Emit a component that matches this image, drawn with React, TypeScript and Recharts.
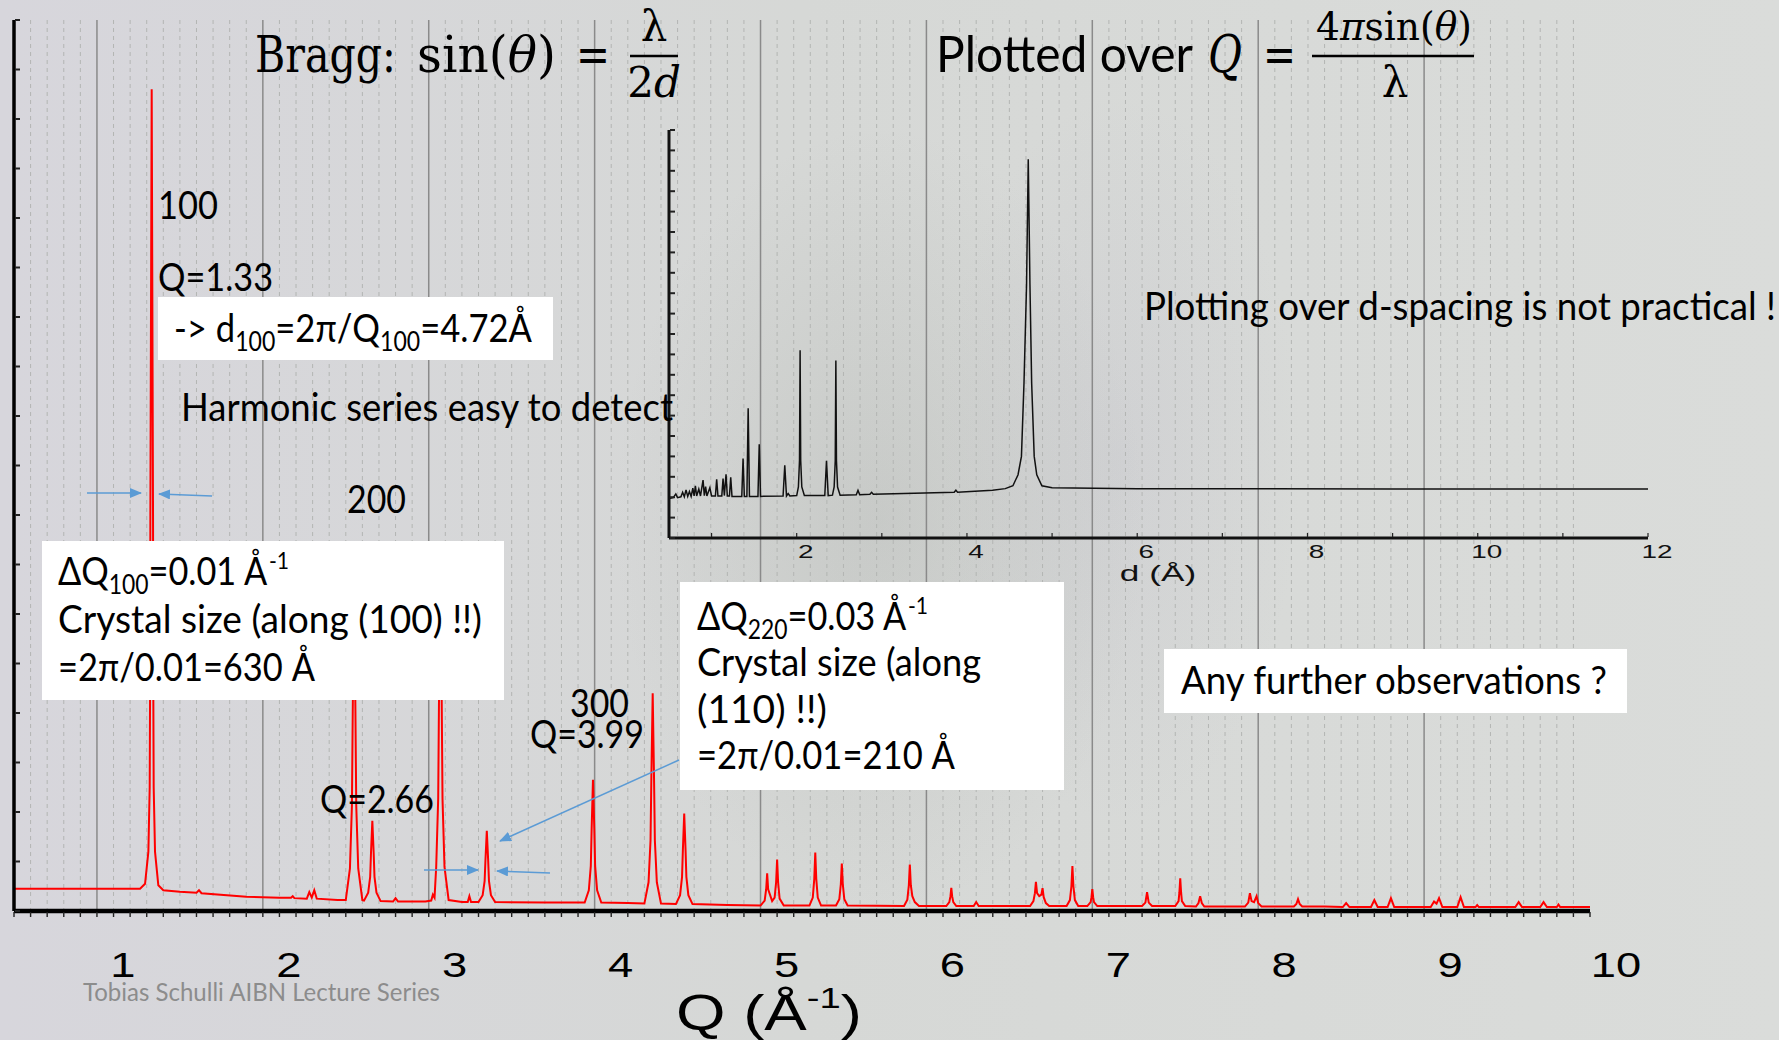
import React from "react";
import { LineChart, Line, XAxis, YAxis, CartesianGrid } from "recharts";

// powder pattern over Q (Å⁻¹): [Q, intensity]
const qPattern: [number, number][] = [
  [0.5, 0.45], [0.9, 0.45], [1.26, 0.45], [1.29, 0.55], [1.31, 1.2], [1.318, 2.5], [1.32, 4.2], [1.322, 8.0],
  [1.33, 16.6], [1.338, 8.0], [1.34, 4.2], [1.342, 2.5], [1.35, 1.2], [1.37, 0.52], [1.4, 0.42], [1.5, 0.39],
  [1.6, 0.37], [1.615, 0.42], [1.63, 0.36], [1.9, 0.29], [2.1, 0.27], [2.17, 0.27], [2.18, 0.3], [2.19, 0.26],
  [2.265, 0.25], [2.28, 0.38], [2.295, 0.27], [2.31, 0.42], [2.325, 0.25], [2.45, 0.22],
  [2.5, 0.22], [2.525, 0.86], [2.537, 2.13], [2.542, 4.05], [2.55, 6.6], [2.558, 4.05], [2.563, 2.13], [2.575, 0.86], [2.6, 0.22],
  [2.61, 0.21], [2.635, 0.37], [2.647, 0.69], [2.652, 1.18], [2.66, 1.82], [2.668, 1.18], [2.673, 0.69], [2.685, 0.37], [2.71, 0.2],
  [2.785, 0.19], [2.8, 0.26], [2.815, 0.19], [2.98, 0.19], [3.015, 0.21], [3.025, 0.33], [3.035, 0.27],
  [3.045, 0.89], [3.057, 2.27], [3.062, 4.34], [3.07, 7.1], [3.078, 4.34], [3.083, 2.27], [3.095, 0.89], [3.12, 0.22],
  [3.2, 0.18], [3.235, 0.18], [3.245, 0.3], [3.255, 0.18],
  [3.3, 0.18], [3.325, 0.32], [3.337, 0.61], [3.342, 1.04], [3.35, 1.62], [3.358, 1.04], [3.363, 0.61], [3.375, 0.32], [3.4, 0.18],
  [3.7, 0.17],
  [3.94, 0.17], [3.965, 0.42], [3.977, 0.91], [3.982, 1.66], [3.99, 2.65], [3.998, 1.66], [4.003, 0.91], [4.015, 0.42], [4.04, 0.17],
  [4.2, 0.16],
  [4.3, 0.15], [4.325, 0.58], [4.337, 1.43], [4.342, 2.7], [4.35, 4.4], [4.358, 2.7], [4.363, 1.43], [4.375, 0.58], [4.4, 0.15],
  [4.49, 0.14], [4.515, 0.32], [4.527, 0.69], [4.532, 1.24], [4.54, 1.97], [4.548, 1.24], [4.553, 0.69], [4.565, 0.32], [4.59, 0.14],
  [4.8, 0.12], [5.0, 0.11], [5.025, 0.21], [5.034, 0.44], [5.04, 0.76], [5.046, 0.44], [5.07, 0.2],
  [5.085, 0.27], [5.094, 0.58], [5.1, 1.04], [5.106, 0.58], [5.115, 0.25], [5.14, 0.11],
  [5.295, 0.11], [5.315, 0.27], [5.324, 0.65], [5.33, 1.18], [5.336, 0.65], [5.345, 0.27], [5.365, 0.11],
  [5.455, 0.11], [5.475, 0.24], [5.484, 0.54], [5.49, 0.96], [5.496, 0.54], [5.505, 0.24], [5.525, 0.11],
  [5.865, 0.1], [5.885, 0.23], [5.894, 0.52], [5.9, 0.94], [5.906, 0.52], [5.915, 0.3], [5.93, 0.18], [5.955, 0.1],
  [6.12, 0.1], [6.138, 0.18], [6.145, 0.3], [6.15, 0.47], [6.155, 0.3], [6.162, 0.18], [6.18, 0.1],
  [6.285, 0.1], [6.3, 0.18], [6.315, 0.1], [6.45, 0.1],
  [6.625, 0.1], [6.645, 0.2], [6.654, 0.36], [6.66, 0.59], [6.667, 0.36], [6.68, 0.3], [6.693, 0.33], [6.7, 0.46], [6.707, 0.28], [6.72, 0.16], [6.74, 0.1],
  [6.845, 0.1], [6.865, 0.22], [6.874, 0.5], [6.88, 0.91], [6.886, 0.5], [6.895, 0.22], [6.915, 0.1],
  [6.97, 0.1], [6.99, 0.18], [6.995, 0.28], [7.0, 0.44], [7.005, 0.28], [7.01, 0.18], [7.03, 0.1],
  [7.15, 0.1], [7.3, 0.1], [7.32, 0.17], [7.33, 0.38], [7.34, 0.17], [7.36, 0.1],
  [7.5, 0.1], [7.52, 0.2], [7.525, 0.38], [7.53, 0.66], [7.535, 0.38], [7.54, 0.2], [7.56, 0.1],
  [7.625, 0.09], [7.64, 0.16], [7.65, 0.3], [7.66, 0.16], [7.675, 0.09],
  [7.92, 0.09], [7.94, 0.17], [7.95, 0.36], [7.96, 0.2], [7.975, 0.18], [7.99, 0.3], [8.0, 0.16], [8.02, 0.09],
  [8.215, 0.09], [8.23, 0.14], [8.24, 0.24], [8.25, 0.14], [8.265, 0.09], [8.4, 0.09],
  [8.51, 0.08], [8.53, 0.16], [8.55, 0.08], [8.68, 0.08], [8.7, 0.22], [8.72, 0.08],
  [8.78, 0.08], [8.8, 0.26], [8.82, 0.08], [8.9, 0.08],
  [9.04, 0.08], [9.06, 0.19], [9.075, 0.15], [9.09, 0.26], [9.11, 0.08],
  [9.2, 0.08], [9.22, 0.28], [9.24, 0.08], [9.31, 0.08], [9.32, 0.12], [9.33, 0.08], [9.45, 0.08],
  [9.55, 0.08], [9.57, 0.18], [9.59, 0.08], [9.7, 0.08], [9.72, 0.18], [9.74, 0.08],
  [9.8, 0.08], [9.81, 0.13], [9.82, 0.08], [10.0, 0.08],
];

// the same pattern over d-spacing (Å): [d, intensity]
const dPattern: [number, number][] = [
  [0.5, 9.7], [0.55, 9.9], [0.58, 10.8], [0.6, 9.9], [0.64, 10.1], [0.66, 11.2], [0.68, 10.1], [0.7, 11.8],
  [0.72, 10.2], [0.74, 11.4], [0.76, 10.2], [0.78, 12.2], [0.795, 10.3], [0.81, 12.8], [0.825, 10.3], [0.85, 12.0],
  [0.87, 10.3], [0.9, 14.2], [0.915, 10.4], [0.93, 12.6], [0.945, 10.3], [0.98, 12.3], [1.0, 10.3], [1.045, 10.3],
  [1.06, 14.4], [1.075, 10.3], [1.12, 10.3], [1.135, 14.6], [1.15, 10.4], [1.17, 15.6], [1.185, 10.3], [1.21, 10.3],
  [1.225, 14.9], [1.24, 10.2], [1.355, 10.2], [1.37, 19.5], [1.385, 10.2], [1.415, 10.2], [1.43, 31.8], [1.445, 10.2],
  [1.545, 10.2], [1.56, 23.0], [1.575, 10.2], [1.84, 10.3], [1.86, 17.8], [1.88, 10.3], [1.9, 10.9], [1.92, 10.3],
  [2.0, 10.4], [2.02, 12.5], [2.033, 19.0], [2.04, 46.0], [2.047, 19.0], [2.06, 12.5], [2.09, 10.4],
  [2.33, 10.4], [2.35, 18.9], [2.37, 10.4],
  [2.42, 10.5], [2.44, 12.5], [2.453, 19.0], [2.46, 43.5], [2.467, 19.0], [2.48, 12.5], [2.51, 10.5],
  [2.7, 10.6], [2.72, 11.7], [2.74, 10.6], [2.86, 10.7], [2.88, 11.2], [2.9, 10.7],
  [3.5, 11.0], [3.85, 11.2], [3.87, 11.7], [3.89, 11.2],
  [4.3, 11.7], [4.45, 12.1], [4.54, 12.8], [4.6, 15.5], [4.64, 20.0], [4.67, 38.0], [4.7, 62.0], [4.72, 92.8],
  [4.74, 62.0], [4.76, 38.0], [4.79, 20.0], [4.82, 15.5], [4.88, 12.8], [5.0, 12.3], [6.0, 12.1], [9.0, 12.0], [12.0, 12.0],
];

const qTickLabels = [1, 2, 3, 4, 5, 6, 7, 8, 9, 10];
const qGridLines = [1, 2, 3, 4, 5, 6, 7, 8, 9];
const dTickLabels = [2, 4, 6, 8, 10, 12];

const qData = qPattern.map(([q, i]) => ({ q, i }));
const dData = dPattern.map(([d, i]) => ({ d, i }));

// minor ticks every 0.1 in Q, every 1 Å in d
const qMinorTicks = Array.from({ length: 96 }, (_, k) => (5 + k) / 10);
const dMinorTicks = Array.from({ length: 12 }, (_, k) => k + 1);
const mainYTicks = Array.from({ length: 19 }, (_, k) => k);
const insetYTicks = Array.from({ length: 21 }, (_, k) => k * 5);

const W = 1779;
const H = 1040;
// plot area: x 14..1590, y 20..911 (axes take 10px / 40px of the margins)
const MAIN = { top: 20, right: 189, bottom: 89, left: 4 };
// inset plot area: x 669..1648, y 130..538
const INSET = { top: 130, right: 131, bottom: 472, left: 659 };
const PLOT_LEFT = 14;
const PLOT_RIGHT = 1590;
const Q_MIN = 0.5;
const Q_MAX = 10;

const SANS = "Lato, 'Open Sans', sans-serif";
const SERIF = "'DejaVu Serif', 'Liberation Serif', serif";
const ARIAL = "'Liberation Sans', Arial, sans-serif";
const BLUE = "#5b9bd5";

// pixel x of a Q value inside the main plot area, only used for the grid
const gridX = (q: number) => PLOT_LEFT + ((q - Q_MIN) / (Q_MAX - Q_MIN)) * (PLOT_RIGHT - PLOT_LEFT);
const majorPoints = qGridLines.map(gridX);
const minorPoints = qMinorTicks.filter((q) => Math.abs(q - Math.round(q)) > 1e-6).map(gridX);

function QTick(props: any) {
  const { x, y, payload } = props;
  const v = payload.value as number;
  const isLabel = qTickLabels.some((t) => Math.abs(t - v) < 1e-6);
  return (
    <g>
      <line x1={x} x2={x} y1={y + 1} y2={y + 6} stroke="#222" strokeWidth={1.4} />
      {isLabel && (
        <text
          transform={`translate(${x + 26},${y + 66}) scale(1.26,1)`}
          textAnchor="middle"
          fontSize={36}
          fontFamily={ARIAL}
          fill="#000"
        >
          {Math.round(v)}
        </text>
      )}
    </g>
  );
}

function InwardYTick(props: any) {
  const { x, y } = props;
  return <line x1={x + 1} x2={x + 6} y1={y} y2={y} stroke="#222" strokeWidth={2} />;
}

function DTick(props: any) {
  const { x, y, payload } = props;
  const v = payload.value as number;
  return (
    <g>
      <line x1={x} x2={x} y1={y - 1} y2={y - 5} stroke="#222" strokeWidth={1.2} />
      {dTickLabels.includes(v) && (
        <text
          transform={`translate(${x + 9},${y + 20}) scale(1.55,1)`}
          textAnchor="middle"
          fontSize={18}
          fontFamily={ARIAL}
          fill="#111"
        >
          {v}
        </text>
      )}
    </g>
  );
}

type TxtProps = {
  x: number;
  y: number;
  w?: number;
  size?: number;
  family?: string;
  fill?: string;
  anchor?: "start" | "middle" | "end";
  children: React.ReactNode;
};

function Txt({ x, y, w, size = 39, family = SANS, fill = "#000", anchor = "start", children }: TxtProps) {
  return (
    <text
      x={x}
      y={y}
      fontSize={size}
      fontFamily={family}
      fill={fill}
      textAnchor={anchor}
      textLength={w}
      lengthAdjust={w ? "spacingAndGlyphs" : undefined}
    >
      {children}
    </text>
  );
}

function Arrow({ x1, y1, x2, y2 }: { x1: number; y1: number; x2: number; y2: number }) {
  return <line x1={x1} y1={y1} x2={x2} y2={y2} stroke={BLUE} strokeWidth={1.5} markerEnd="url(#blueHead)" />;
}

function Annotations() {
  return (
    <svg width={W} height={H} style={{ position: "absolute", left: 0, top: 0 }}>
      <defs>
        <marker id="blueHead" viewBox="0 0 12 10" refX="11" refY="5" markerWidth="12" markerHeight="10" markerUnits="userSpaceOnUse" orient="auto">
          <path d="M0,0 L12,5 L0,10 z" fill={BLUE} />
        </marker>
      </defs>

      {/* Bragg relation */}
      <Txt x={255} y={72} w={141} size={50} family={SERIF}>Bragg:</Txt>
      <Txt x={417} y={72} w={139} size={50} family={SERIF}>
        sin(<tspan fontStyle="italic">θ</tspan>)
      </Txt>
      <Txt x={576} y={72} w={34} size={50} family={SERIF}>=</Txt>
      <Txt x={654} y={41} size={42} family={SERIF} anchor="middle">λ</Txt>
      <line x1={630} x2={678} y1={56} y2={56} stroke="#000" strokeWidth={2.5} />
      <Txt x={654} y={97} size={42} family={SERIF} anchor="middle">
        2<tspan fontStyle="italic">d</tspan>
      </Txt>

      {/* Q definition */}
      <Txt x={936} y={72} w={257} size={50}>Plotted over</Txt>
      <Txt x={1208} y={72} w={34} size={52} family={SERIF}>
        <tspan fontStyle="italic">Q</tspan>
      </Txt>
      <Txt x={1263} y={72} w={33} size={50} family={SERIF}>=</Txt>
      <Txt x={1316} y={40} w={156} size={40} family={SERIF}>
        4<tspan fontStyle="italic">π</tspan>sin(<tspan fontStyle="italic">θ</tspan>)
      </Txt>
      <line x1={1312} x2={1474} y1={56} y2={56} stroke="#000" strokeWidth={2.5} />
      <Txt x={1395} y={97} size={42} family={SERIF} anchor="middle">λ</Txt>

      {/* peak labels */}
      <Txt x={158} y={219} w={60}>100</Txt>
      <Txt x={158} y={291} w={115}>Q=1.33</Txt>
      <rect x={158} y={297} width={395} height={63} fill="#fff" />
      <Txt x={174} y={342} w={358}>
        -&gt; d<tspan dy={9} fontSize={26}>100</tspan>
        <tspan dy={-9}>=2π/Q</tspan>
        <tspan dy={9} fontSize={26}>100</tspan>
        <tspan dy={-9}>=4.72Å</tspan>
      </Txt>
      <Txt x={181} y={421} w={492}>Harmonic series easy to detect</Txt>
      <Txt x={347} y={513} w={59}>200</Txt>

      <rect x={42} y={541} width={462} height={159} fill="#fff" />
      <Txt x={58} y={585} w={231}>
        ΔQ<tspan dy={9} fontSize={26}>100</tspan>
        <tspan dy={-9}>=0.01 Å</tspan>
        <tspan dy={-16} dx={2} fontSize={24}>-1</tspan>
      </Txt>
      <Txt x={58} y={633} w={424}>Crystal size (along (100) !!)</Txt>
      <Txt x={58} y={681} w={257}>=2π/0.01=630 Å</Txt>

      <Txt x={570} y={717} w={59}>300</Txt>
      <Txt x={530} y={748} w={114}>Q=3.99</Txt>
      <Txt x={320} y={813} w={114}>Q=2.66</Txt>

      <rect x={680} y={582} width={384} height={208} fill="#fff" />
      <Txt x={697} y={630} w={231}>
        ΔQ<tspan dy={9} fontSize={26}>220</tspan>
        <tspan dy={-9}>=0.03 Å</tspan>
        <tspan dy={-16} dx={2} fontSize={24}>-1</tspan>
      </Txt>
      <Txt x={697} y={676} w={284}>Crystal size (along</Txt>
      <Txt x={697} y={723} w={130}>(110) !!)</Txt>
      <Txt x={697} y={769} w={258}>=2π/0.01=210 Å</Txt>

      <Arrow x1={87} y1={493} x2={141} y2={493} />
      <Arrow x1={212} y1={496} x2={159} y2={494} />
      <Arrow x1={424} y1={870} x2={478} y2={870} />
      <Arrow x1={550} y1={873} x2={497} y2={871} />
      <Arrow x1={679} y1={760} x2={500} y2={841} />

      <Txt x={1144} y={320} w={632} size={38}>Plotting over d-spacing is not practical !</Txt>
      <rect x={1164} y={649} width={463} height={64} fill="#fff" />
      <Txt x={1181} y={694} w={426}>Any further observations ?</Txt>

      {/* axis titles */}
      <text transform="translate(1158,581) scale(1.6,1)" textAnchor="middle" fontSize={22} fontFamily={ARIAL} fill="#111">
        d (Å)
      </text>
      <Txt x={676} y={1030} w={186} size={50} family={ARIAL}>
        Q (Å<tspan dy={-22} fontSize={30}>-1</tspan>
        <tspan dy={22}>)</tspan>
      </Txt>

      <Txt x={83} y={1001} w={357} size={25} fill="#8c8c8c">Tobias Schulli AIBN Lecture Series</Txt>
    </svg>
  );
}

export default function App() {
  return (
    <div
      style={{
        position: "absolute",
        left: 0,
        top: 0,
        width: W,
        height: H,
        overflow: "hidden",
        background:
          "radial-gradient(ellipse 380px 560px at 880px 520px, rgba(140,144,140,0.20), rgba(140,144,140,0) 70%)," +
          "radial-gradient(ellipse 260px 520px at 1120px 460px, rgba(165,160,185,0.14), rgba(165,160,185,0) 70%)," +
          "linear-gradient(90deg, #d7d6dc 0%, #d6d8d6 45%, #dadcda 100%)",
      }}
    >
      {/* main pattern over Q */}
      <div style={{ position: "absolute", left: 0, top: 0 }}>
        <LineChart width={W} height={H} data={qData} margin={MAIN}>
          <CartesianGrid horizontal={false} verticalPoints={minorPoints} stroke="#b3b5b3" strokeDasharray="4 4" strokeWidth={1} />
          <CartesianGrid horizontal={false} verticalPoints={majorPoints} stroke="#8a8a8a" strokeWidth={1.5} />
          <XAxis
            dataKey="q"
            type="number"
            domain={[Q_MIN, Q_MAX]}
            allowDataOverflow
            ticks={qMinorTicks}
            interval={0}
            height={40}
            tickSize={0}
            tickMargin={0}
            tickLine={false}
            tick={(p: any) => <QTick {...p} />}
            axisLine={{ stroke: "#000", strokeWidth: 4.5 }}
          />
          <YAxis
            type="number"
            domain={[0, 18]}
            ticks={mainYTicks}
            interval={0}
            width={10}
            tickSize={0}
            tickMargin={0}
            tickLine={false}
            tick={(p: any) => <InwardYTick {...p} />}
            axisLine={{ stroke: "#000", strokeWidth: 3.5 }}
          />
          <Line type="linear" dataKey="i" stroke="#ff0000" strokeWidth={2} dot={false} isAnimationActive={false} />
        </LineChart>
      </div>

      {/* inset: same pattern over d-spacing */}
      <div style={{ position: "absolute", left: 0, top: 0 }}>
        <LineChart width={W} height={H} data={dData} margin={INSET}>
          <XAxis
            dataKey="d"
            type="number"
            domain={[0.5, 12]}
            allowDataOverflow
            ticks={dMinorTicks}
            interval={0}
            height={30}
            tickSize={0}
            tickMargin={0}
            tickLine={false}
            tick={(p: any) => <DTick {...p} />}
            axisLine={{ stroke: "#111", strokeWidth: 3 }}
          />
          <YAxis
            type="number"
            domain={[0, 100]}
            ticks={insetYTicks}
            interval={0}
            width={10}
            tickSize={0}
            tickMargin={0}
            tickLine={false}
            tick={(p: any) => <InwardYTick {...p} />}
            axisLine={{ stroke: "#111", strokeWidth: 3 }}
          />
          <Line type="linear" dataKey="i" stroke="#111" strokeWidth={1.5} dot={false} isAnimationActive={false} />
        </LineChart>
      </div>

      <Annotations />
    </div>
  );
}
